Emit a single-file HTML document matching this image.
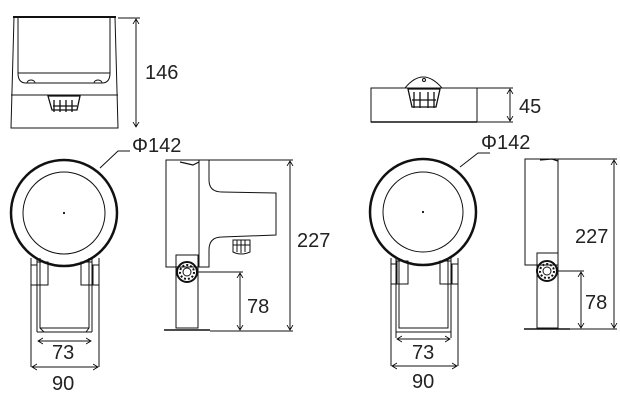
<!DOCTYPE html>
<html><head><meta charset="utf-8"><style>
html,body{margin:0;padding:0;background:#fff;}
svg{display:block}
text{font-family:"Liberation Sans",sans-serif;font-size:20px;fill:#222;}
</style></head><body>
<svg width="620" height="413" viewBox="0 0 620 413" xmlns="http://www.w3.org/2000/svg">
<defs>
<marker id="a" markerWidth="6" markerHeight="8" refX="5" refY="4" orient="auto-start-reverse" markerUnits="userSpaceOnUse"><path d="M0,1 L5,4 L0,7" fill="none" stroke="#000" stroke-width="0.8"/></marker>
</defs>
<g fill="none" stroke="#111" stroke-width="1">
<!-- LEFT TOP VIEW -->
<line x1="13" y1="17" x2="116" y2="17" stroke-width="2"/>
<path d="M14,17 L11,128 L118,128 L115,17"/>
<path d="M18,17 L18,73 Q18,83 26,83 L102,83 Q110,83 110,73 L110,17"/>
<line x1="18" y1="73" x2="110" y2="73"/>
<path d="M27,83 a4,3 0 0 1 8,0 M94,83 a4,3 0 0 1 8,0"/>
<line x1="11" y1="95" x2="118" y2="95"/>
<path d="M48,96 L52,110 L77,110 L80,96 Z M54,100 L54,112 M60,100 L60,112 M66,100 L66,112 M72,100 L72,112 M53,106 L77,106" stroke-width="1.3"/>
<line x1="118" y1="18" x2="140" y2="18"/>
<line x1="136" y1="19" x2="136" y2="127" marker-start="url(#a)" marker-end="url(#a)"/>

<!-- LEFT FRONT VIEW -->
<circle cx="64" cy="213" r="53" stroke-width="2.5"/>
<circle cx="64" cy="213" r="41"/>
<circle cx="64" cy="213" r="0.6" fill="#000"/>
<path d="M100,168 L118,151 L130,151"/>
<path d="M31,258 L31,367 M99,258 L99,367"/>
<path d="M37,258 L37,332 M92,258 L92,332"/>
<path d="M40,258 L40,328 L89,328 L89,258 M37,332 L92,332 M40,328 L44,332 M89,328 L86,332"/>
<rect x="31" y="265" width="6" height="20"/><rect x="37" y="262" width="11" height="23"/>
<rect x="93" y="265" width="6" height="20"/><rect x="81" y="262" width="11" height="23"/>
<line x1="38" y1="341" x2="91" y2="341" marker-start="url(#a)" marker-end="url(#a)"/>
<line x1="32" y1="367" x2="98" y2="367" marker-start="url(#a)" marker-end="url(#a)"/>

<!-- LEFT SIDE VIEW -->
<rect x="166" y="160" width="33" height="107"/>
<path d="M199,160 L209,160 L209,180 Q209,192 222,192 L276,193 L276,235 L222,237 Q209,237 209,250 L209,267 L199,267"/>
<path d="M180,162 L193,165 L199,162" stroke-width="1.2"/>
<line x1="199" y1="160" x2="293" y2="160"/>
<path d="M233,240 L233,252 Q241,256 250,252 L250,240 Z M237,240 L237,252 M241,240 L241,253 M245,240 L245,252 M233,245 L250,245"/>
<rect x="176" y="255" width="22" height="73"/>
<line x1="164" y1="330" x2="210" y2="330" stroke-width="1.6"/>
<circle cx="187" cy="272" r="10" stroke-width="2"/>
<circle cx="187" cy="272" r="4"/>
<circle cx="187" cy="272" r="7" stroke-dasharray="2 2" stroke-width="2"/>
<line x1="198" y1="272" x2="243" y2="272"/>
<line x1="210" y1="331" x2="293" y2="331"/>
<line x1="240" y1="273" x2="240" y2="330" marker-start="url(#a)" marker-end="url(#a)"/>
<line x1="290" y1="161" x2="290" y2="330" marker-start="url(#a)" marker-end="url(#a)"/>

<!-- RIGHT TOP VIEW -->
<rect x="371" y="88" width="106" height="34"/>
<line x1="371" y1="122" x2="477" y2="122" stroke-width="1.6"/>
<path d="M477,88 L513,88 M477,122 L513,122"/>
<path d="M405,88 Q423,66 442,88"/>
<circle cx="424" cy="80" r="1.5"/>
<path d="M408,89 L412,107 L436,107 L440,89 Z M414,92 L414,108 M420,92 L420,108 M428,92 L428,108 M434,92 L434,108 M412,100 L436,100" stroke-width="1.3"/>
<line x1="510" y1="89" x2="510" y2="121" marker-start="url(#a)" marker-end="url(#a)"/>

<!-- RIGHT FRONT VIEW -->
<circle cx="423" cy="212" r="53" stroke-width="2.5"/>
<circle cx="423" cy="212" r="40"/>
<circle cx="423" cy="212" r="0.6" fill="#000"/>
<path d="M460,167 L478,153 L490,153"/>
<path d="M391,258 L391,366 M458,258 L458,366"/>
<path d="M396,258 L396,338 M451,258 L451,338"/>
<path d="M399,258 L399,328 L448,328 L448,258 M396,332 L451,332"/>
<rect x="391" y="264" width="6" height="20"/><rect x="397" y="261" width="11" height="23"/>
<rect x="452" y="264" width="6" height="20"/><rect x="440" y="261" width="11" height="23"/>
<line x1="397" y1="339" x2="450" y2="339" marker-start="url(#a)" marker-end="url(#a)"/>
<line x1="392" y1="366" x2="457" y2="366" marker-start="url(#a)" marker-end="url(#a)"/>

<!-- RIGHT SIDE VIEW -->
<rect x="525" y="159" width="33" height="106"/>
<path d="M540,160 L552,159 L558,161" stroke-width="1.2"/>
<line x1="558" y1="159" x2="617" y2="159"/>
<rect x="537" y="253" width="21" height="75"/>
<line x1="524" y1="329" x2="570" y2="329" stroke-width="1.6"/>
<circle cx="547" cy="271" r="10" stroke-width="2"/>
<circle cx="547" cy="271" r="4"/>
<circle cx="547" cy="271" r="7" stroke-dasharray="2 2" stroke-width="2"/>
<line x1="558" y1="271" x2="584" y2="271"/>
<line x1="570" y1="329" x2="617" y2="329"/>
<line x1="581" y1="272" x2="581" y2="328" marker-start="url(#a)" marker-end="url(#a)"/>
<line x1="614" y1="160" x2="614" y2="328" marker-start="url(#a)" marker-end="url(#a)"/>
</g>
<text x="145" y="79">146</text>
<text x="132" y="152">Φ142</text>
<text x="52" y="359">73</text>
<text x="52" y="390">90</text>
<text x="247" y="313">78</text>
<text x="297" y="247">227</text>
<text x="519" y="113">45</text>
<text x="481" y="149">Φ142</text>
<text x="412" y="359">73</text>
<text x="412" y="388">90</text>
<text x="585" y="309">78</text>
<text x="575" y="243">227</text>
</svg>
</body></html>
